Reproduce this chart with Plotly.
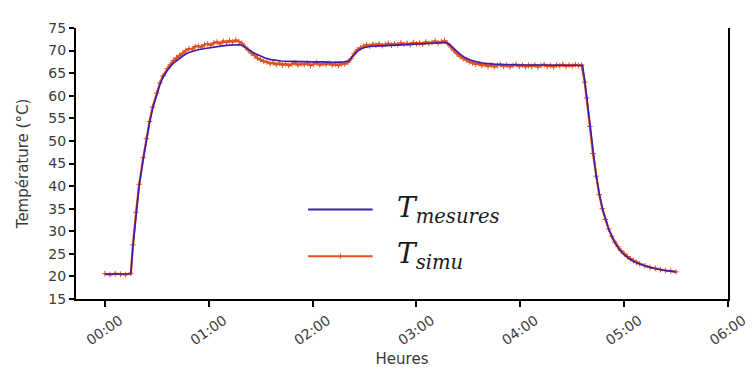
import plotly.graph_objects as go

# Time in hours
mes_t = [0.00, 0.10, 0.20, 0.25, 0.27, 0.30, 0.33, 0.37, 0.40, 0.43, 0.46, 0.50, 0.53, 0.56,
         0.60, 0.65, 0.70, 0.75, 0.80, 0.85, 0.90, 0.95, 1.00, 1.05, 1.10, 1.15, 1.20, 1.25,
         1.30, 1.33, 1.37, 1.41, 1.45, 1.50, 1.55, 1.60, 1.65, 1.70, 1.80, 1.90, 2.00, 2.10,
         2.20, 2.30, 2.35, 2.38, 2.42, 2.46, 2.50, 2.55, 2.60, 2.70, 2.80, 2.90, 3.00, 3.10,
         3.20, 3.28, 3.32, 3.37, 3.42, 3.47, 3.52, 3.58, 3.65, 3.75, 3.85, 4.00, 4.20, 4.40,
         4.55, 4.60, 4.62, 4.64, 4.67, 4.70, 4.73, 4.76, 4.80, 4.85, 4.90, 4.95, 5.00, 5.05,
         5.10, 5.20, 5.30, 5.40, 5.50]
mes_v = [20.5, 20.5, 20.5, 20.6, 26.5, 33.8, 40.0, 46.0, 50.3, 54.0, 57.2, 60.4, 62.5, 64.1,
         65.6, 67.0, 68.0, 68.8, 69.5, 69.9, 70.2, 70.4, 70.6, 70.8, 71.0, 71.1, 71.2, 71.3,
         71.3, 71.1, 70.4, 69.8, 69.3, 68.8, 68.3, 68.0, 67.8, 67.7, 67.6, 67.5, 67.5, 67.5,
         67.4, 67.5, 67.7, 68.6, 69.6, 70.3, 70.7, 70.9, 71.0, 71.1, 71.2, 71.3, 71.4, 71.5,
         71.6, 71.8, 71.3, 70.2, 69.2, 68.4, 67.9, 67.5, 67.2, 67.0, 66.9, 66.8, 66.8, 66.8,
         66.8, 66.7, 63.5, 59.8, 53.5, 47.5, 42.4, 38.4, 34.2, 30.6, 27.9, 26.0, 24.8, 23.9,
         23.2, 22.3, 21.7, 21.3, 21.0]

sim_t = [0.00, 0.05, 0.10, 0.15, 0.20, 0.25, 0.27, 0.30, 0.33, 0.37, 0.40, 0.43, 0.46, 0.50,
         0.53, 0.56, 0.60, 0.63, 0.66, 0.69, 0.72, 0.75, 0.78, 0.81, 0.84, 0.87, 0.90, 0.93,
         0.96, 0.99, 1.02, 1.05, 1.08, 1.11, 1.14, 1.17, 1.20, 1.23, 1.26, 1.29, 1.32, 1.35,
         1.38, 1.41, 1.44, 1.47, 1.50, 1.53, 1.56, 1.59, 1.62, 1.65, 1.68, 1.71, 1.74, 1.77,
         1.80, 1.83, 1.86, 1.89, 1.92, 1.95, 1.98, 2.01, 2.04, 2.07, 2.10, 2.13, 2.16, 2.19,
         2.22, 2.25, 2.28, 2.31, 2.34, 2.37, 2.40, 2.43, 2.46, 2.49, 2.52, 2.55, 2.58, 2.61,
         2.64, 2.67, 2.70, 2.73, 2.76, 2.79, 2.82, 2.85, 2.88, 2.91, 2.94, 2.97, 3.00, 3.03,
         3.06, 3.09, 3.12, 3.15, 3.18, 3.21, 3.24, 3.27, 3.30, 3.33, 3.36, 3.39, 3.42, 3.45,
         3.48, 3.51, 3.54, 3.57, 3.60, 3.63, 3.66, 3.69, 3.72, 3.75, 3.78, 3.81, 3.84, 3.87,
         3.90, 3.93, 3.96, 3.99, 4.02, 4.05, 4.08, 4.11, 4.14, 4.17, 4.20, 4.23, 4.26, 4.29,
         4.32, 4.35, 4.38, 4.41, 4.44, 4.47, 4.50, 4.53, 4.56, 4.59, 4.62, 4.64, 4.67, 4.70,
         4.73, 4.76, 4.79, 4.82, 4.85, 4.88, 4.91, 4.94, 4.97, 5.00, 5.03, 5.06, 5.09, 5.12,
         5.15, 5.20, 5.25, 5.30, 5.35, 5.40, 5.45, 5.50]
sim_v = [20.6, 20.4, 20.6, 20.5, 20.4, 20.7, 27.0, 34.2, 40.4, 46.3, 50.5, 54.3, 57.5, 60.6,
         62.8, 64.4, 66.0, 66.9, 67.8, 68.4, 69.0, 69.4, 70.0, 70.4, 70.3, 70.9, 71.0, 70.8,
         71.3, 71.5, 71.2, 71.7, 71.9, 71.5, 72.1, 71.8, 72.2, 71.9, 72.3, 72.0, 71.6, 70.8,
         70.1, 69.4, 68.9, 68.3, 68.0, 67.6, 67.5, 67.1, 67.3, 66.9, 67.2, 66.8, 67.1, 66.7,
         67.0, 67.3, 66.8, 67.1, 66.9, 67.2, 66.7, 67.0, 67.3, 66.8, 67.1, 66.9, 67.2, 66.8,
         67.0, 66.7, 67.1, 67.0, 67.4, 68.2, 69.3, 70.2, 70.6, 71.0, 71.3, 71.0, 71.4, 71.2,
         71.5, 71.1, 71.4, 71.6, 71.2, 71.5, 71.3, 71.7, 71.4, 71.6, 71.3, 71.8, 71.5, 71.7,
         71.4, 71.9, 71.6, 71.8, 72.1, 71.7, 72.0, 72.2, 71.6, 70.8, 70.0, 69.3, 68.7, 68.2,
         67.9, 67.5, 67.3, 67.0, 67.1, 66.7, 66.9, 66.5, 66.8, 66.4, 66.7, 66.9, 66.5, 66.8,
         66.4, 66.7, 66.9, 66.5, 66.8, 66.4, 66.7, 66.5, 66.8, 66.4, 66.7, 66.9, 66.5, 66.7,
         66.4, 66.8, 66.6, 66.9, 66.5, 66.8, 66.6, 66.9, 66.7, 66.8, 63.0, 59.5, 53.2, 47.2,
         42.2, 38.1, 35.0, 32.6, 30.5, 28.9, 27.6, 26.6, 25.7, 25.0, 24.4, 23.9, 23.5, 23.1,
         22.8, 22.4, 22.0, 21.8, 21.5, 21.3, 21.2, 21.0]

x_ticks = [0, 1, 2, 3, 4, 5, 6]
x_ticklabels = ["00:00", "01:00", "02:00", "03:00", "04:00", "05:00", "06:00"]
y_ticks = [15, 20, 25, 30, 35, 40, 45, 50, 55, 60, 65, 70, 75]

BLUE = "#3c1eaa"
ORANGE = "#e4501e"

fig = go.Figure()
fig.add_trace(go.Scatter(x=sim_t, y=sim_v, mode="lines+markers", name="T simu",
                         line=dict(color=ORANGE, width=2.2),
                         marker=dict(symbol="cross-thin", size=4, line=dict(color=ORANGE, width=1)),
                         showlegend=False))
fig.add_trace(go.Scatter(x=mes_t, y=mes_v, mode="lines", name="T mesures",
                         line=dict(color=BLUE, width=1.6), showlegend=False))

# legend drawn manually
lx0, lx1 = 0.356, 0.455
ly1, ly2 = 0.330, 0.158
fig.add_shape(type="line", xref="paper", yref="paper", x0=lx0, x1=lx1, y0=ly1, y1=ly1,
              line=dict(color=BLUE, width=2))
fig.add_shape(type="line", xref="paper", yref="paper", x0=lx0, x1=lx1, y0=ly2, y1=ly2,
              line=dict(color=ORANGE, width=2))
fig.add_shape(type="line", xref="paper", yref="paper", x0=(lx0 + lx1) / 2, x1=(lx0 + lx1) / 2,
              y0=ly2 - 0.010, y1=ly2 + 0.010, line=dict(color=ORANGE, width=1))
fig.add_annotation(xref="paper", yref="paper", x=0.489, y=ly1 + 0.002, xanchor="left", yanchor="middle",
                   text="<i>T</i><sub><i>mesures</i></sub>", showarrow=False,
                   font=dict(family="DejaVu Serif", size=28, color="#1a1a1a"))
fig.add_annotation(xref="paper", yref="paper", x=0.489, y=ly2 + 0.002, xanchor="left", yanchor="middle",
                   text="<i>T</i><sub><i>simu</i></sub>", showarrow=False,
                   font=dict(family="DejaVu Serif", size=28, color="#1a1a1a"))

axis_font = dict(family="DejaVu Sans", size=14, color="#3a3a3a")
title_font = dict(family="DejaVu Sans", size=15, color="#3a3a3a")
# page body has an 8px margin: plot area placed at x 76..730.5, y 21..300 on the page
fig.update_layout(
    width=753, height=369,
    margin=dict(l=68, r=30.5, t=13, b=77),
    plot_bgcolor="white", paper_bgcolor="white",
    xaxis=dict(range=[-0.278, 6.0], tickvals=x_ticks, ticktext=x_ticklabels, tickangle=-35,
               showline=True, linecolor="black", linewidth=2, ticks="outside", ticklen=6,
               tickwidth=1.5, tickcolor="black", showgrid=False, zeroline=False,
               tickfont=axis_font, ticklabelshift=15,
               title=dict(text="Heures", font=title_font, standoff=6)),
    yaxis=dict(range=[15, 75], tickvals=y_ticks, showline=True, mirror=True, linecolor="black",
               linewidth=2, ticks="outside", ticklen=5, tickwidth=1.5, tickcolor="black",
               showgrid=False, zeroline=False, tickfont=axis_font,
               title=dict(text="Température (°C)", font=title_font, standoff=16)),
)

fig.write_html("out.html")
